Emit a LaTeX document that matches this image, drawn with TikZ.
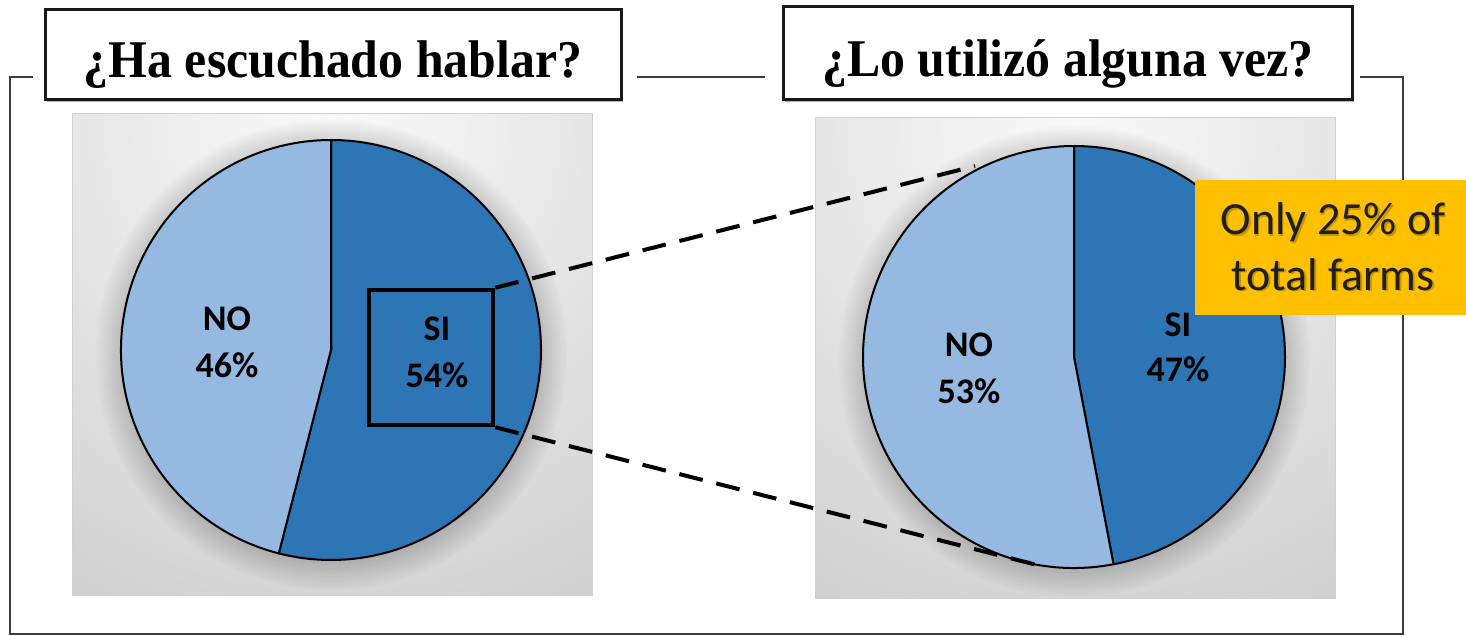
\documentclass[tikz,border=0pt]{standalone}
\usepackage{fontspec}
\setmainfont{Liberation Serif}
\newfontfamily\calib{Carlito}
\usetikzlibrary{calc,fadings}
\definecolor{siblue}{HTML}{2E75B6}
\definecolor{noblue}{HTML}{95B9E1}
\definecolor{goldbox}{HTML}{FFC000}
\definecolor{framegray}{HTML}{3C3C3C}
\definecolor{txtdark}{HTML}{1E1E1E}
\definecolor{bgA}{HTML}{F9F9F9}
\definecolor{bgB}{HTML}{EEEEEE}
\definecolor{bgC}{HTML}{D0D0D0}
\definecolor{bgD}{HTML}{BCBCBC}
\pgfdeclareradialshading{bgshade}{\pgfpoint{0bp}{0bp}}{color(0bp)=(bgA); color(7bp)=(bgB); color(24bp)=(bgC); color(40bp)=(bgD); color(50bp)=(bgD)}
\tikzset{
  panel/.style={draw=black!18, line width=1},
  slice/.style={draw=black, line width=2, line join=round},
  lbl/.style={font=\calib\bfseries\fontsize{36}{47}\selectfont, text=black, inner sep=0, anchor=base},
  titlebox/.style={draw=black!90, line width=3, fill=white},
  titletext/.style={font=\fontsize{53}{60}\selectfont\bfseries, inner sep=0, anchor=base, xscale=0.94, transform shape},
  framestyle/.style={draw=framegray, line width=2},
  dashline/.style={draw=black, line width=4, dash pattern=on 24 off 14},
  zbox/.style={draw=black, line width=4.5, inner sep=0},
  note/.style={font=\calib\fontsize{46}{55}\selectfont, text=txtdark, inner sep=0, anchor=base},
  noteshadow/.style={font=\calib\fontsize{46}{55}\selectfont, text=black, opacity=0.22, inner sep=0, anchor=base},
  halo/.style={fill=black, opacity=0.3, path fading=circle with fuzzy edge 20 percent}
}
\begin{document}
\begin{tikzpicture}[x=1pt,y=-1pt]
\useasboundingbox (0,0) rectangle (1466,636);
% outer frame
\draw[framestyle] (33,77) -- (10,77) -- (10,634) -- (1403,634) -- (1403,77) -- (1360,77);
\draw[framestyle] (637,77) -- (765,77);
% title boxes
\fill[black!30] (47,12) rectangle (623,102);
\fill[black!30] (785,9) rectangle (1354,102);
\node[titlebox, minimum width=576, minimum height=90] (tb1) at (333,55) {};
\node[titlebox, minimum width=569, minimum height=93] (tb2) at (1067.5,53.5) {};
\node[titletext] (tt1) at (333,78) {¿Ha escuchado hablar?};
\node[titletext] (tt2) at (1068,77) {¿Lo utilizó alguna vez?};
% panels with gradient
\begin{scope}
  \clip (72,114) rectangle (592,595);
  \shade[shading=bgshade] (332,124) circle (560);
  \fill[halo] (331,354) circle (236);
\end{scope}
\draw[panel] (72,114) rectangle (592,595);
\begin{scope}
  \clip (815,118) rectangle (1335,598);
  \shade[shading=bgshade] (1075,128) circle (560);
  \fill[halo] (1074,361) circle (236);
\end{scope}
\draw[panel] (815,118) rectangle (1335,598);
% pie 1
\coordinate (c1) at (331,350);
\filldraw[slice, fill=siblue, shift={(c1)}] (0,0) -- (-90:210) arc[start angle=-90, end angle=104.4, radius=210] -- cycle;
\filldraw[slice, fill=noblue, shift={(c1)}] (0,0) -- (104.4:210) arc[start angle=104.4, end angle=270, radius=210] -- cycle;
\node[lbl] (no1a) at (227,330) {NO};
\node[lbl] (no1b) at (227,377) {46\%};
\node[zbox, minimum width=124, minimum height=135] (zoombox) at (431,357.5) {};
\node[lbl] (si1a) at (437,340) {SI};
\node[lbl] (si1b) at (437,387) {54\%};
% pie 2
\coordinate (c2) at (1074,357);
\filldraw[slice, fill=siblue, shift={(c2)}] (0,0) -- (-90:211) arc[start angle=-90, end angle=79.2, radius=211] -- cycle;
\filldraw[slice, fill=noblue, shift={(c2)}] (0,0) -- (79.2:211) arc[start angle=79.2, end angle=270, radius=211] -- cycle;
\node[lbl] (no2a) at (969,356) {NO};
\node[lbl] (no2b) at (969,403) {53\%};
\node[lbl] (si2a) at (1178,336) {SI};
\node[lbl] (si2b) at (1178,381) {47\%};
% zoom connectors
\coordinate (t2) at (975,166);
\coordinate (b2) at (1045,567);
\draw[dashline] (zoombox.north east) -- (t2);
\draw[dashline] (zoombox.south east) -- (b2);
% note
\node[fill=goldbox, minimum width=271, minimum height=135, inner sep=0] (notebox) at (1330.5,247.5) {};
\node[noteshadow] (ns1) at (1334.5,236.5) {Only 25\% of};
\node[noteshadow] (ns2) at (1334.5,291.5) {total farms};
\node[note] (n1) at (1333,235) {Only 25\% of};
\node[note] (n2) at (1333,290) {total farms};
\end{tikzpicture}
\end{document}
